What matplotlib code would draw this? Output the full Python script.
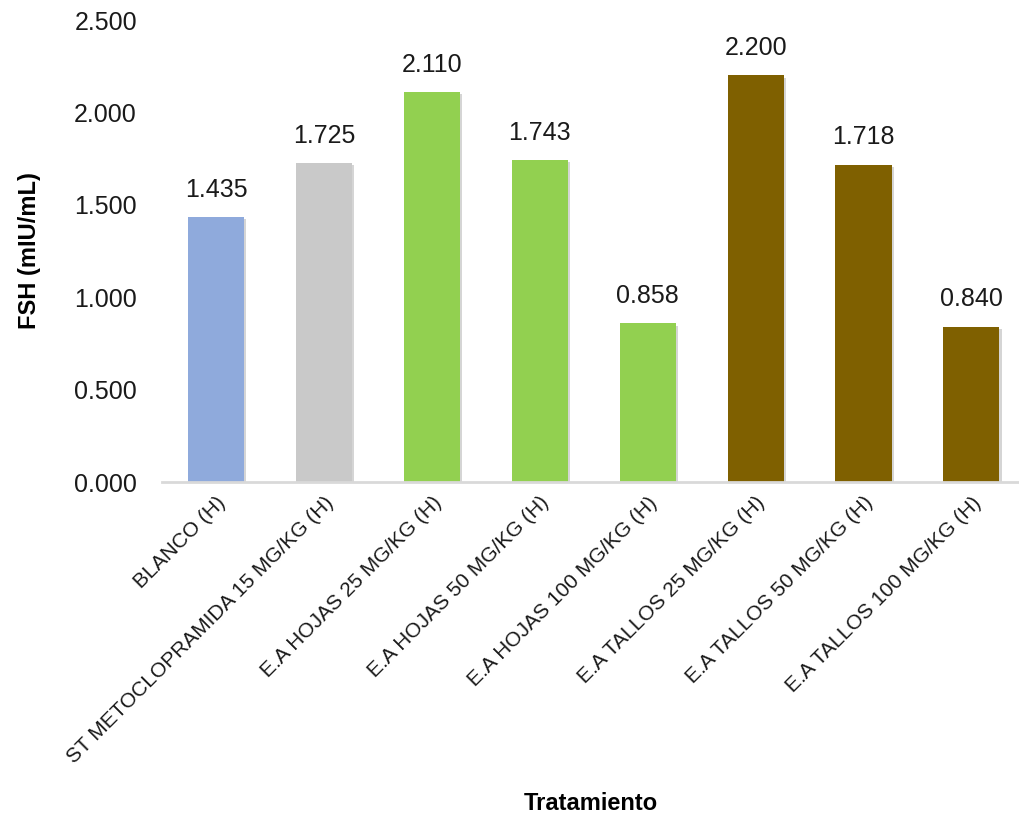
import matplotlib
matplotlib.use('Agg')
from matplotlib import pyplot as plt
import matplotlib.patheffects as pe

plt.rcParams['font.family'] = ['Liberation Sans', 'DejaVu Sans']

tratamientos = ['BLANCO (H)', 'ST METOCLOPRAMIDA 15 MG/KG (H)', 'E.A HOJAS 25 MG/KG (H)',
                'E.A HOJAS 50 MG/KG (H)', 'E.A HOJAS 100 MG/KG (H)', 'E.A TALLOS 25 MG/KG (H)',
                'E.A TALLOS 50 MG/KG (H)', 'E.A TALLOS 100 MG/KG (H)']
fsh = [1.435, 1.725, 2.110, 1.743, 0.858, 2.200, 1.718, 0.840]
colores = ['#8FAADC', '#C9C9C9', '#92D050', '#92D050', '#92D050', '#7F6000', '#7F6000', '#7F6000']

fig = plt.figure(figsize=(10.2, 8.19), dpi=100)
ax = fig.add_axes([162 / 1020, 1 - 482 / 819, (1020 - 162) / 1020, (482 - 20) / 819])

x = range(len(fsh))
bars = ax.bar(x, fsh, width=0.52, color=colores, zorder=2)
for b in bars:
    b.set_path_effects([pe.SimplePatchShadow(offset=(1.5, -1.5), shadow_rgbFace='#888888', alpha=0.35),
                        pe.Normal()])

for xi, v in zip(x, fsh):
    ax.annotate(f'{v:.3f}', (xi, v), xytext=(0, 11), textcoords='offset points',
                ha='center', va='bottom', fontsize=18, color='#1a1a1a')

ax.set_xlim(-0.5, 7.45)
ax.set_ylim(0, 2.5)
ax.set_yticks([0, 0.5, 1.0, 1.5, 2.0, 2.5])
ax.set_yticklabels([f'{t:.3f}' for t in ax.get_yticks()], fontsize=18, color='#1a1a1a')
ax.tick_params(axis='y', length=0, pad=18)
ax.tick_params(axis='x', length=0, pad=8)
ax.set_xticks(list(x))
ax.set_xticklabels(tratamientos, rotation=45, ha='right', rotation_mode='anchor',
                   fontsize=15, color='#1a1a1a')

for s in ['top', 'right', 'left']:
    ax.spines[s].set_visible(False)
ax.spines['bottom'].set_color('#D9D9D9')
ax.spines['bottom'].set_linewidth(2)
ax.spines['bottom'].set_zorder(3)

ax.set_ylabel('FSH (mIU/mL)', fontsize=17, fontweight='bold', labelpad=24)
fig.text(0.5 + 81 / 1020, 1 - 803 / 819, 'Tratamiento', ha='center', va='center',
         fontsize=17, fontweight='bold')

fig.savefig('out.png', dpi=100)
